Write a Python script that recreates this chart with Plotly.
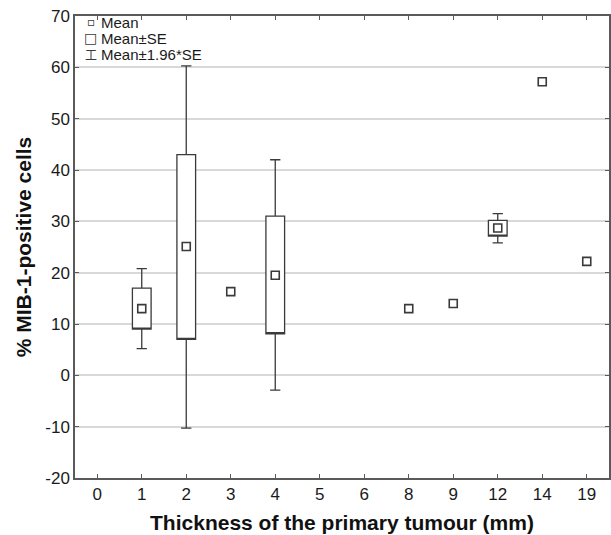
import plotly.graph_objects as go

# ---- data ----
categories = ["0", "1", "2", "3", "4", "5", "6", "8", "9", "12", "14", "19"]
mean_vals = [None, 13.0, 25.1, 16.3, 19.5, None, None, 13.0, 14.0, 28.7, 57.2, 22.2]
se_low    = [None, 9.0, 7.0, None, 8.1, None, None, None, None, 27.1, None, None]
se_high   = [None, 17.0, 43.0, None, 31.0, None, None, None, None, 30.2, None, None]
ci_low    = [None, 5.2, -10.3, None, -2.9, None, None, None, None, 25.8, None, None]
ci_high   = [None, 20.8, 60.3, None, 42.0, None, None, None, None, 31.5, None, None]
yticks = [-20, -10, 0, 10, 20, 30, 40, 50, 60, 70]
ytick_text = ["-20", "-10", "0", "10", "20", "30", "40", "50", "60", "70"]

pos = list(range(len(categories)))
box_idx = [i for i in pos if se_low[i] is not None]
mean_idx = [i for i in pos if mean_vals[i] is not None]

LINE = "#3a3a3a"
AX = "#5a5a5a"

fig = go.Figure()
fig.add_trace(go.Box(
    x=[pos[i] for i in box_idx],
    q1=[se_low[i] for i in box_idx],
    median=[se_low[i] for i in box_idx],
    q3=[se_high[i] for i in box_idx],
    lowerfence=[ci_low[i] for i in box_idx],
    upperfence=[ci_high[i] for i in box_idx],
    width=0.42, whiskerwidth=0.55,
    fillcolor="white", line=dict(color=LINE, width=1.3),
    boxpoints=False, showlegend=False, hoverinfo="skip",
))
fig.add_trace(go.Scatter(
    x=[pos[i] for i in mean_idx], y=[mean_vals[i] for i in mean_idx],
    mode="markers",
    marker=dict(symbol="square-open", size=8, color=LINE, line=dict(width=1.6, color=LINE)),
    showlegend=False, hoverinfo="skip",
))

font_main = "Liberation Sans, Arial, Helvetica, sans-serif"

fig.update_layout(
    width=611, height=535,
    margin=dict(l=75, r=0, t=16, b=57),
    paper_bgcolor="white", plot_bgcolor="white",
    font=dict(family=font_main, color="#1a1a1a", size=17),
    xaxis=dict(
        range=[-0.5, 11.5], tickvals=pos, ticktext=categories,
        showgrid=False, zeroline=False,
        showline=True, linecolor=AX, linewidth=1.5, mirror="ticks",
        ticks="inside", ticklen=4, tickcolor=AX, tickwidth=1.2,
        tickfont=dict(size=17),
        title=dict(text="Thickness of the primary tumour (mm)",
                   font=dict(size=21, weight="bold", color="#111"), standoff=12),
    ),
    yaxis=dict(
        range=[-20, 70], tickvals=yticks, ticktext=ytick_text,
        showgrid=True, gridcolor="#d9d9d9", gridwidth=1.5, zeroline=False,
        showline=True, linecolor=AX, linewidth=1.5, mirror="ticks",
        ticks="inside", ticklen=4, tickcolor=AX, tickwidth=1.2,
        tickfont=dict(size=17),
        title=dict(text="% MIB-1-positive cells",
                   font=dict(size=21, weight="bold", color="#111"), standoff=8),
    ),
)

def px_x(px):
    return (px - 75) / 536.0

def px_y(py):
    return (478 - py) / 462.0

legend_rows = [
    ("\u25ab", "DejaVu Sans", 12, 22, "Mean"),
    ("\u25a1", "DejaVu Sans", 14, 38.5, "Mean\u00b1SE"),
    ("\u5de5", "Noto Sans CJK SC", 12, 55, "Mean\u00b11.96*SE"),
]
for icon, fam, sz, yc, label in legend_rows:
    fig.add_annotation(xref="paper", yref="paper", x=px_x(91), y=px_y(yc),
                       text=icon, showarrow=False, xanchor="center", yanchor="middle",
                       font=dict(family=fam, size=sz, color=LINE))
    fig.add_annotation(xref="paper", yref="paper", x=px_x(99), y=px_y(yc),
                       text=label, showarrow=False, xanchor="left", yanchor="middle",
                       font=dict(size=15, color="#1a1a1a"))

fig.write_html("out.html")
